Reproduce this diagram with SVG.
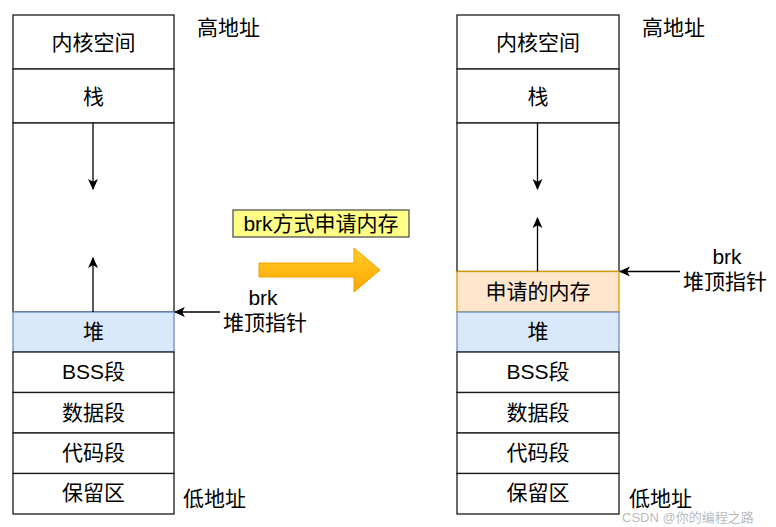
<svg xmlns="http://www.w3.org/2000/svg" width="776" height="527" viewBox="0 0 776 527">
<defs>
<style>
.box{fill:#ffffff;stroke:#1a1a1a;stroke-width:1.3}
.heap{fill:#dae8fc;stroke:#6c8ebf;stroke-width:1.3}
.req{fill:#ffe6cc;stroke:#d79b00;stroke-width:1.3}
text{font-family:"Liberation Sans","Noto Sans CJK SC",sans-serif;font-size:21px;fill:#000}
.c{text-anchor:middle}
.line{stroke:#000;stroke-width:1.3;fill:none;marker-end:url(#arr)}
</style>
<marker id="arr" viewBox="0 0 10 10" refX="9" refY="5" markerWidth="11" markerHeight="11" markerUnits="userSpaceOnUse" orient="auto">
<path d="M0,0.5 L10,5 L0,9.5 L2.5,5 Z" fill="#000"/>
</marker>
<linearGradient id="og" x1="0" y1="0" x2="0" y2="1">
<stop offset="0" stop-color="#ffcd28"/>
<stop offset="1" stop-color="#ffa500"/>
</linearGradient>
</defs>
<rect width="776" height="527" fill="#ffffff"/>

<g id="left-kernel"><rect class="box" x="13" y="15" width="161" height="54"/><text class="c" x="93.5" y="50">内核空间</text></g>
<g id="left-stack"><rect class="box" x="13" y="69" width="161" height="54"/><text class="c" x="93.5" y="104">栈</text></g>
<g id="left-free"><rect class="box" x="13" y="123" width="161" height="189"/></g>
<g id="left-heap"><rect class="heap" x="13" y="312" width="161" height="40"/><text class="c" x="93.5" y="339">堆</text></g>
<g id="left-bss"><rect class="box" x="13" y="352" width="161" height="40.5"/><text class="c" x="93.5" y="379">BSS段</text></g>
<g id="left-data"><rect class="box" x="13" y="392.5" width="161" height="40.5"/><text class="c" x="93.5" y="420">数据段</text></g>
<g id="left-code"><rect class="box" x="13" y="433" width="161" height="40.5"/><text class="c" x="93.5" y="460">代码段</text></g>
<g id="left-reserved"><rect class="box" x="13" y="473.5" width="161" height="40.5"/><text class="c" x="93.5" y="500">保留区</text></g>
<g id="left-high"><text x="197" y="35">高地址</text></g>
<g id="left-low"><text x="183" y="506">低地址</text></g>
<g id="left-brk"><text class="c" x="263" y="305">brk</text><text class="c" x="265" y="330">堆顶指针</text></g>

<g id="right-kernel"><rect class="box" x="457" y="15" width="162" height="54"/><text class="c" x="538" y="50">内核空间</text></g>
<g id="right-stack"><rect class="box" x="457" y="69" width="162" height="54"/><text class="c" x="538" y="104">栈</text></g>
<g id="right-free"><rect class="box" x="457" y="123" width="162" height="148.5"/></g>
<g id="right-req"><rect class="req" x="457" y="271.5" width="162" height="40.5"/><text class="c" x="538" y="299">申请的内存</text></g>
<g id="right-heap"><rect class="heap" x="457" y="312" width="162" height="40"/><text class="c" x="538" y="339">堆</text></g>
<g id="right-bss"><rect class="box" x="457" y="352" width="162" height="40.5"/><text class="c" x="538" y="379">BSS段</text></g>
<g id="right-data"><rect class="box" x="457" y="392.5" width="162" height="40.5"/><text class="c" x="538" y="420">数据段</text></g>
<g id="right-code"><rect class="box" x="457" y="433" width="162" height="40.5"/><text class="c" x="538" y="460">代码段</text></g>
<g id="right-reserved"><rect class="box" x="457" y="473.5" width="162" height="40.5"/><text class="c" x="538" y="500">保留区</text></g>
<g id="right-high"><text x="642" y="35">高地址</text></g>
<g id="right-low"><text x="629" y="506">低地址</text></g>
<g id="right-brk"><text class="c" x="727" y="264">brk</text><text class="c" x="725" y="289">堆顶指针</text></g>

<g id="label-brk"><rect x="233" y="210" width="176" height="27" fill="#ffff88" stroke="#555555" stroke-width="1.3"/><text class="c" x="321" y="231">brk方式申请内存</text></g>
<g id="big-arrow"><polygon points="259,263 354,263 354,248 380,270 354,292 354,277 259,277" fill="url(#og)" stroke="#f0a000" stroke-width="1"/></g>

<g id="connectors">
<line class="line" x1="93" y1="123" x2="93" y2="189"/>
<line class="line" x1="93" y1="312" x2="93" y2="258"/>
<line class="line" x1="220" y1="312" x2="175" y2="312"/>
<line class="line" x1="537.5" y1="123" x2="537.5" y2="189"/>
<line class="line" x1="537.5" y1="271.5" x2="537.5" y2="218"/>
<line class="line" x1="680" y1="271.5" x2="620" y2="271.5"/>
</g>

<g id="watermark"><text x="622" y="522" style="font-size:13px;fill:#999999;fill-opacity:0.7">CSDN @你的编程之路</text></g>
</svg>
